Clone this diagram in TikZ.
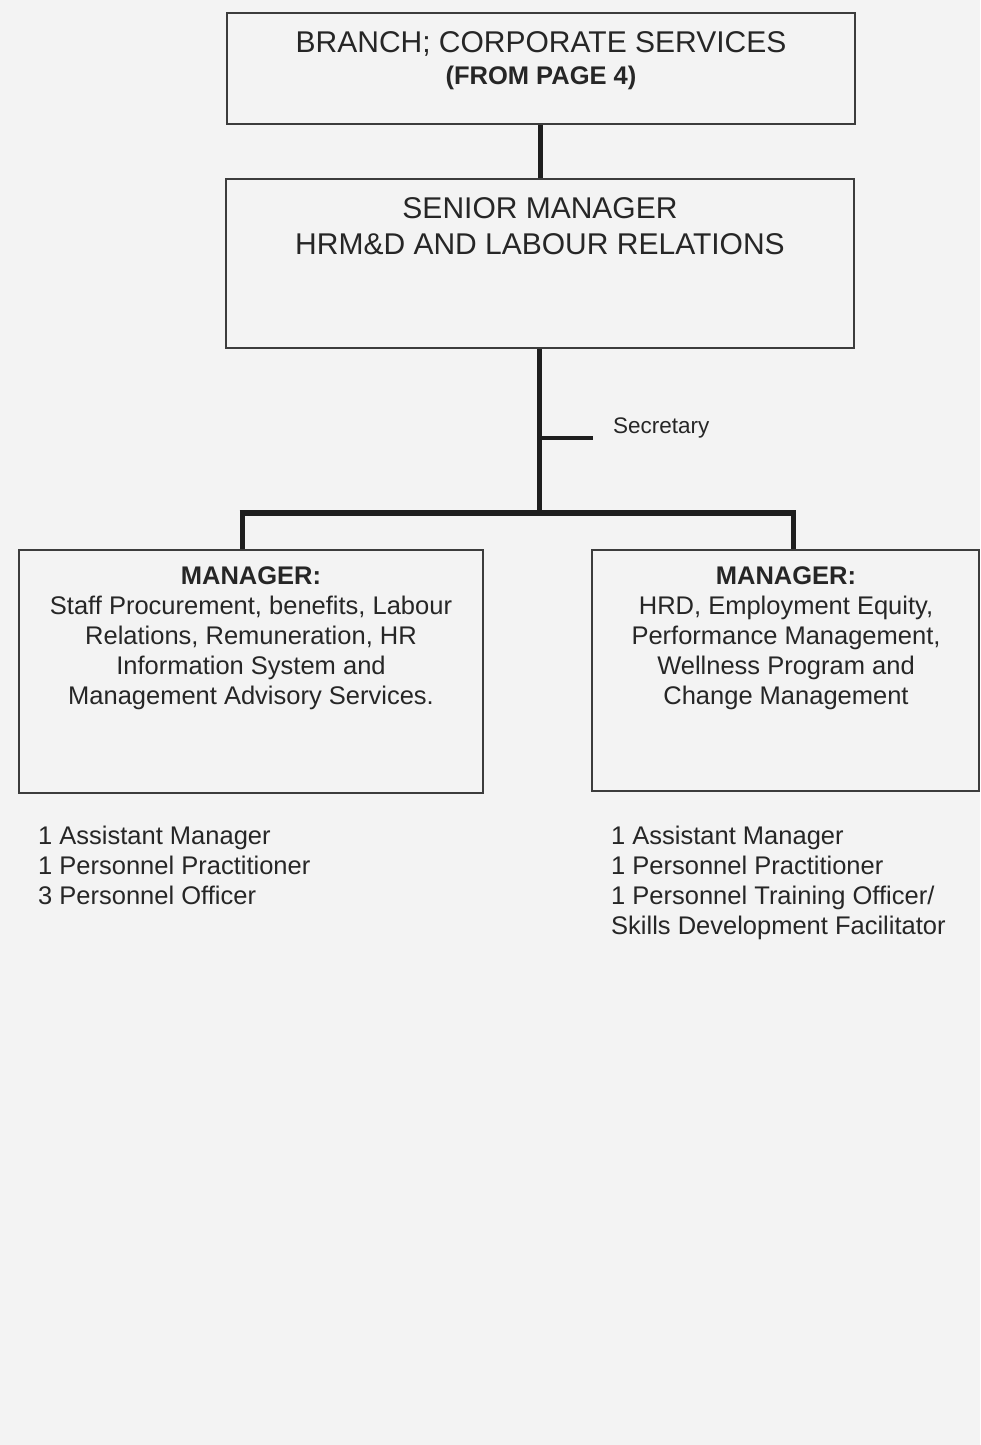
\documentclass[tikz,border=0pt]{standalone}
\usepackage{fontspec}
\setmainfont{Liberation Sans}
\definecolor{bgc}{RGB}{243,243,243}
\definecolor{boxc}{RGB}{60,60,60}
\definecolor{linec}{RGB}{30,30,30}
\definecolor{txtc}{RGB}{38,38,38}
\begin{document}
\begin{tikzpicture}[x=1pt,y=-1pt,
  box/.style={draw=boxc, line width=1.8pt, inner sep=0pt, anchor=north west},
  conn/.style={draw=linec, line width=5pt},
  head/.style={text=txtc, inner sep=0pt, align=center, font=\fontsize{30}{36}\selectfont},
  body/.style={text=txtc, inner sep=0pt, align=center, font=\fontsize{25.5}{30}\selectfont},
  list/.style={text=txtc, inner sep=0pt, align=left, anchor=north west, font=\fontsize{25.5}{30}\selectfont},
  sec/.style={text=txtc, inner sep=0pt, anchor=west, font=\fontsize{22.5}{27}\selectfont}]
\fill[bgc] (0,0) rectangle (980,1445);
\useasboundingbox (0,0) rectangle (980,1445);

% boxes
\node[box, minimum width=628pt, minimum height=111pt] (b1) at (226,12) {};
\node[box, minimum width=628pt, minimum height=169pt] (b2) at (225,178) {};
\node[box, minimum width=464pt, minimum height=243pt] (m1) at (18,549) {};
\node[box, minimum width=387pt, minimum height=241pt] (m2) at (591,549) {};

% texts
\node[head, anchor=north] (t1) at (541,31) {BRANCH; CORPORATE SERVICES\\[-4pt]{\fontsize{25.5}{30}\selectfont\bfseries (FROM PAGE 4)}};
\node[head, anchor=north] (t2) at (540,197) {SENIOR MANAGER\\HRM\&D AND LABOUR RELATIONS};
\node[body, anchor=north] (t3) at (251,566) {{\bfseries MANAGER:}\\Staff Procurement, benefits, Labour\\Relations, Remuneration, HR\\Information System and\\Management Advisory Services.};
\node[body, anchor=north] (t4) at (786,566) {{\bfseries MANAGER:}\\HRD, Employment Equity,\\Performance Management,\\Wellness Program and\\Change Management};
\node[list] (l1) at (38,826) {1 Assistant Manager\\1 Personnel Practitioner\\3 Personnel Officer};
\node[list] (l2) at (611,826) {1 Assistant Manager\\1 Personnel Practitioner\\1 Personnel Training Officer/\\Skills Development Facilitator};
\node[sec] (s) at (613,428) {Secretary};

% connectors
\coordinate (j) at (539,513);
\coordinate (js) at (539,438);
\coordinate (se) at (593,438);
\coordinate (jl) at (242,513);
\coordinate (jr) at (793,513);
\draw[conn] (b2.north -| b1.south) -- (b1.south);
\draw[conn] (b2.south -| j) -- (j);
\draw[draw=linec, line width=4pt] (js) -- (se);
\draw[draw=linec, line width=6pt] ([xshift=-2.5pt]jl) -- ([xshift=2.5pt]jr);
\draw[conn] (jl) -- (jl |- m1.north);
\draw[conn] (jr) -- (jr |- m2.north);
\end{tikzpicture}
\end{document}
